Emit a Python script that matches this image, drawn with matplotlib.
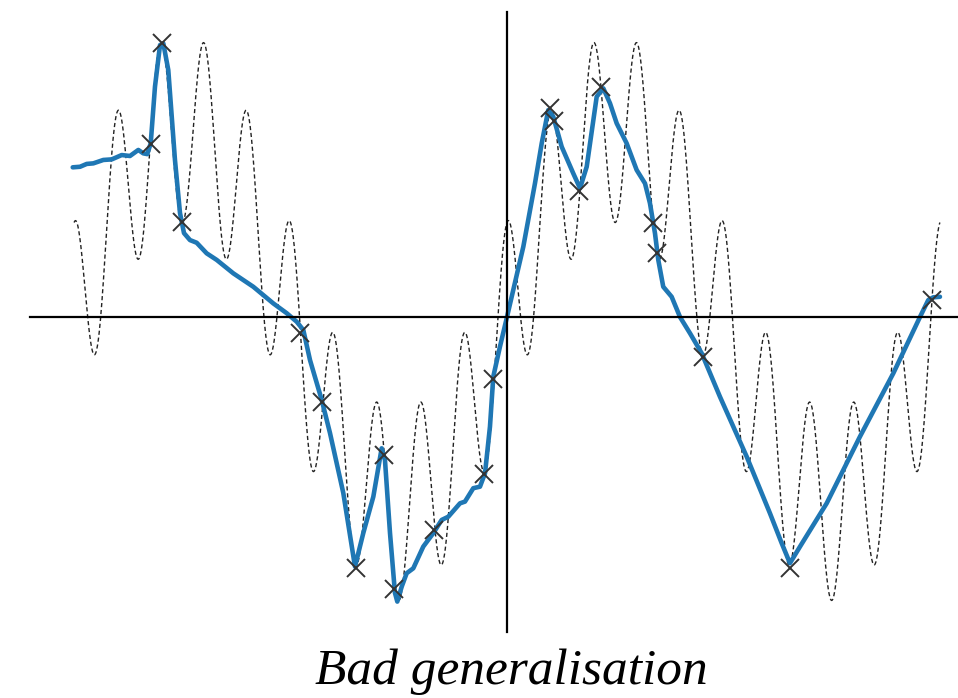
import numpy as np
import matplotlib
matplotlib.use("Agg")
import matplotlib.pyplot as plt

# target function: sin(x) + 0.5 cos(10 x) on [-2pi, 2pi]
slow_amp = 1.0
fast_amp = 0.5
fast_freq = 10
x_start, x_end = -2 * np.pi, 2 * np.pi

# training samples (crosses)
sample_x = [-5.171, -5.003, -4.721, -3.004, -2.689, -2.192, -1.785, -1.636, -1.060, -0.334,
            -0.199, 0.624, 0.682, 1.049, 1.360, 2.115, 2.173, 2.840, 4.107, 6.164]
sample_y = [0.914, 1.448, 0.504, -0.086, -0.448, -1.330, -0.730, -1.441, -1.127, -0.831,
            -0.328, 1.104, 1.039, 0.667, 1.215, 0.496, 0.337, -0.210, -1.330, 0.090]

# fitted model (blue line)
fit_x = [-6.303, -6.197, -6.100, -6.004, -5.859, -5.737, -5.592, -5.472, -5.351, -5.279,
         -5.221, -5.171, -5.109, -5.036, -4.988, -4.916, -4.819, -4.746, -4.688, -4.601,
         -4.504, -4.359, -4.213, -3.972, -3.682, -3.392, -3.197, -3.052, -2.956, -2.859,
         -2.689, -2.569, -2.376, -2.206, -2.086, -1.940, -1.819, -1.771, -1.698, -1.626,
         -1.592, -1.528, -1.456, -1.360, -1.215, -1.070, -0.948, -0.852, -0.682, -0.610,
         -0.489, -0.392, -0.319, -0.247, -0.199, -0.102, 0.000, 0.237, 0.406, 0.504,
         0.599, 0.672, 0.794, 0.962, 1.060, 1.157, 1.302, 1.398, 1.495, 1.592,
         1.737, 1.882, 2.003, 2.075, 2.148, 2.196, 2.268, 2.390, 2.511, 2.656,
         2.826, 3.091, 3.479, 3.817, 3.987, 4.107, 4.253, 4.640, 5.123, 5.607,
         5.994, 6.115, 6.187, 6.284]
fit_y = [0.792, 0.795, 0.810, 0.813, 0.831, 0.834, 0.857, 0.852, 0.884, 0.866,
         0.862, 0.919, 1.219, 1.439, 1.448, 1.307, 0.831, 0.550, 0.444, 0.407,
         0.393, 0.337, 0.302, 0.231, 0.160, 0.072, 0.020, -0.025, -0.069, -0.228,
         -0.439, -0.614, -0.931, -1.321, -1.144, -0.951, -0.695, -0.757, -1.143, -1.460,
         -1.506, -1.427, -1.356, -1.330, -1.215, -1.144, -1.074, -1.057, -0.986, -0.977,
         -0.906, -0.898, -0.827, -0.580, -0.316, -0.157, 0.000, 0.372, 0.707, 0.919,
         1.095, 1.060, 0.901, 0.760, 0.681, 0.795, 1.166, 1.210, 1.131, 1.025,
         0.919, 0.778, 0.707, 0.602, 0.443, 0.302, 0.160, 0.107, 0.000, -0.086,
         -0.192, -0.422, -0.739, -1.039, -1.197, -1.303, -1.215, -0.986, -0.633, -0.298,
         0.000, 0.090, 0.104, 0.107]

title = "Bad generalisation"

fig = plt.figure(figsize=(9.58, 6.98), dpi=100)
ax = fig.add_axes([30 / 958, 1 - 632 / 698, 928 / 958, 620 / 698])

xs = np.linspace(x_start, x_end, 3000)
target = slow_amp * np.sin(xs) + fast_amp * np.cos(fast_freq * xs)
ax.plot(xs, target, color="#222222", lw=1.0, linestyle=(0, (3, 2)), zorder=1)
ax.plot(fit_x, fit_y, color="#1f77b4", lw=3.3, solid_capstyle="round",
        solid_joinstyle="round", zorder=2)
ax.plot(sample_x, sample_y, "x", color="#333333", ms=13, mew=1.4, zorder=3)

ax.set_xlim(-6.923, 6.546)
ax.set_ylim(-1.667, 1.614)
ax.spines["left"].set_position(("data", 0))
ax.spines["bottom"].set_position(("data", 0))
ax.spines["top"].set_visible(False)
ax.spines["right"].set_visible(False)
for s in ("left", "bottom"):
    ax.spines[s].set_linewidth(1.6)
ax.set_xticks([])
ax.set_yticks([])

fig.text(511 / 958, 1 - 684 / 698, title, ha="center", va="baseline",
         fontsize=37, fontstyle="italic", family="Liberation Serif")

fig.savefig("out.png", dpi=100)
